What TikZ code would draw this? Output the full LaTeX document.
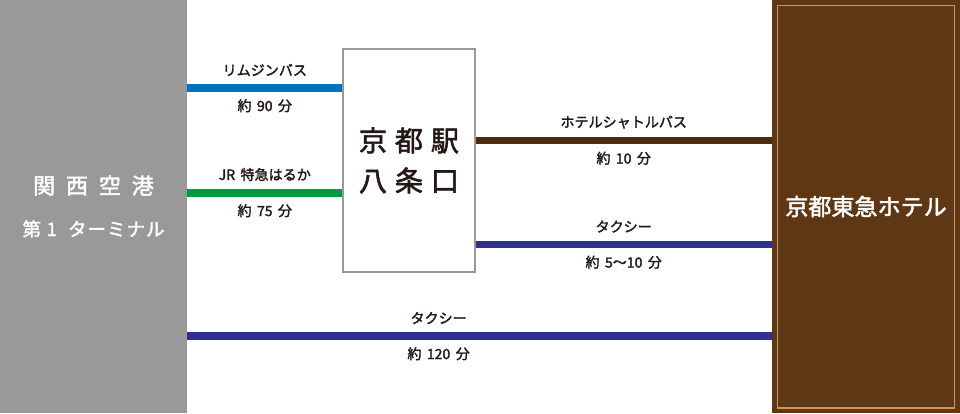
\documentclass[tikz,border=0pt]{standalone}
\usepackage{fontspec}
\setmainfont{Noto Sans CJK JP}[WordSpace=2]
\newfontfamily\medfont{Noto Sans CJK JP}[WordSpace=1.7, FakeBold=2]
\definecolor{kixgray}{RGB}{153, 153, 153}
\definecolor{limoblue}{RGB}{0, 113, 188}
\definecolor{harukagreen}{RGB}{0, 153, 68}
\definecolor{shuttlebrown}{RGB}{74, 42, 16}
\definecolor{taxinavy}{RGB}{46, 49, 146}
\definecolor{hotelbrown}{RGB}{94, 56, 20}
\definecolor{hotelline}{RGB}{200, 149, 106}
\definecolor{inkbrown}{RGB}{35, 24, 21}
\usetikzlibrary{positioning, calc}

\tikzset{
  route/.style={line width=5pt},
  tag/.style={font=\medfont\fontsize{10}{12}\selectfont, text=inkbrown, inner sep=2pt},
  tagup/.style={tag, above=4pt},
  tagdown/.style={tag, below=3.5pt},
}

\begin{document}
\begin{tikzpicture}
  \useasboundingbox (0,0) rectangle (24,10.325);

  % Kansai airport
  \node[fill=kixgray, inner sep=0pt, minimum width=4.675cm, minimum height=10.325cm, text=white, align=center, font=\medfont\fontsize{15.6}{30}\selectfont] (kix) at (2.3375, 5.1625) {
    関\kern.5em西\kern.5em空\kern.5em港\\
    \fontsize{13.2}{30}\selectfont 第\kern.3em1\kern.6em タ\kern.05emー\kern.05emミ\kern.05emナ\kern.05emル
  };

  % Kyoto station
  \node[draw=kixgray, line width=1pt, minimum width=3.3cm, minimum height=5.575cm, align=center, text=inkbrown, font=\medfont\fontsize{20}{28.5}\selectfont] (station) at (10.225, 6.3125) {
    京\kern.28em都\kern.28em駅\\八\kern.28em条\kern.28em口
  };

  % Hotel
  \node[fill=hotelbrown, inner sep=0pt, minimum width=4.7cm, minimum height=10.325cm, text=white, font=\medfont\fontsize{16.4}{20}\selectfont] (hotel) at (21.65, 5.1625) {京都東急ホテル};
  \draw[hotelline, line width=1pt] ($(hotel.south west)+(0.15,0.13)$) rectangle ($(hotel.north east)+(-0.15,-0.15)$);

  % Airport to station
  \draw[route, limoblue] (kix.east |- 0,8.125) -- node[tagup] {リムジンバス} node[tagdown] {約 90 分} (station.west |- 0,8.125);
  \draw[route, harukagreen] (kix.east |- 0,5.5) -- node[tagup] {JR 特急はるか} node[tagdown] {約 75 分} (station.west |- 0,5.5);

  % Station to hotel
  \draw[route, shuttlebrown] (station.east |- 0,6.8125) -- node[tagup] {ホテルシャトルバス} node[tagdown] {約 10 分} (hotel.west |- 0,6.8125);
  \draw[route, taxinavy] (station.east |- 0,4.2125) -- node[tagup] {タクシー} node[tagdown] {約 5〜10 分} (hotel.west |- 0,4.2125);

  % Airport to hotel
  \draw[route, taxinavy] (kix.east |- 0,1.925) -- node[tagup, pos=0.43] {タクシー} node[tagdown, pos=0.43] {約 120 分} (hotel.west |- 0,1.925);
\end{tikzpicture}
\end{document}
